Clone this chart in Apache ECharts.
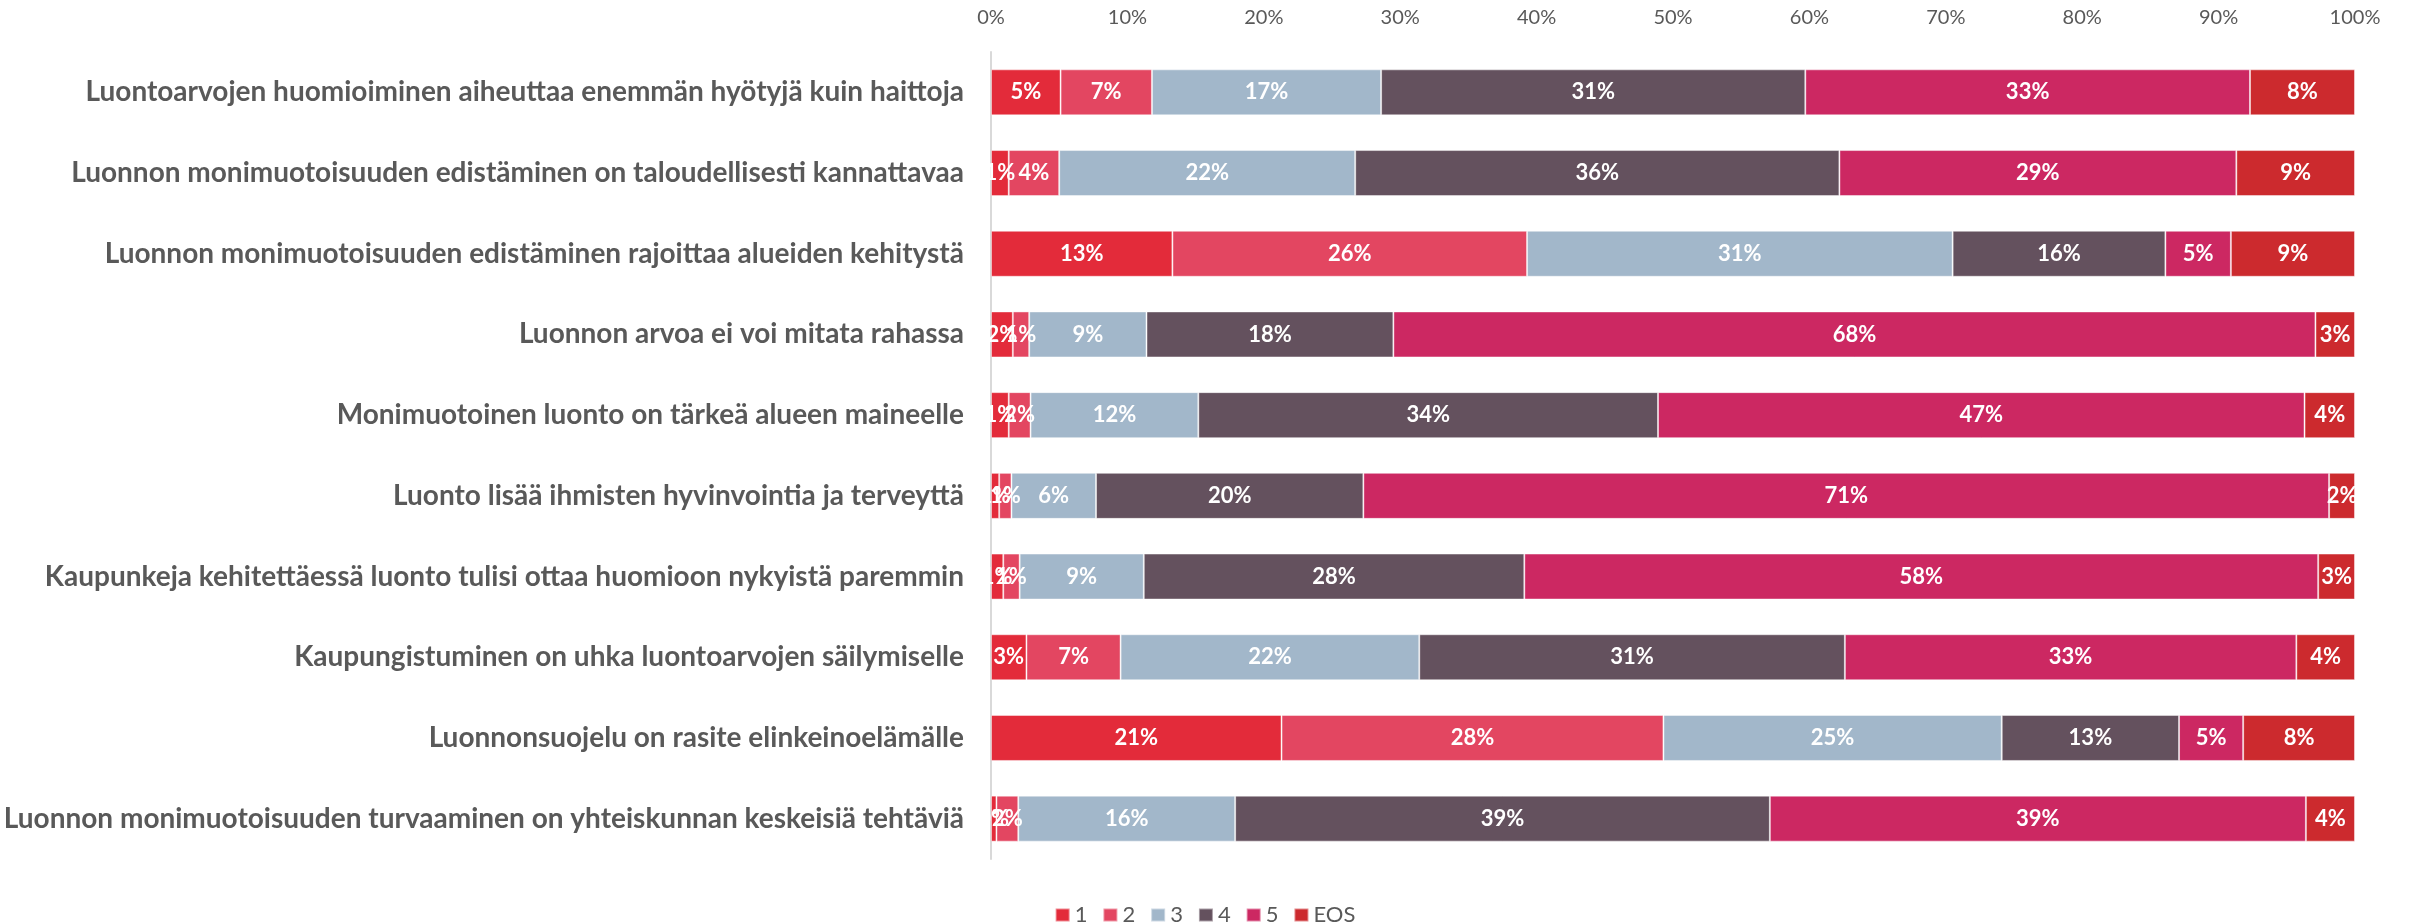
<!DOCTYPE html>
<html>
<head>
<meta charset="utf-8">
<script src="https://cdn.jsdelivr.net/npm/echarts@6/dist/echarts.min.js"></script>
<style>
  html, body { margin: 0; padding: 0; background: #ffffff; }
  #chart { width: 2410px; height: 922px; }
</style>
</head>
<body>
<div id="chart"></div>
<script>
// Statements, top to bottom
const statements = [
  'Luontoarvojen huomioiminen aiheuttaa enemmän hyötyjä kuin haittoja',
  'Luonnon monimuotoisuuden edistäminen on taloudellisesti kannattavaa',
  'Luonnon monimuotoisuuden edistäminen rajoittaa alueiden kehitystä',
  'Luonnon arvoa ei voi mitata rahassa',
  'Monimuotoinen luonto on tärkeä alueen maineelle',
  'Luonto lisää ihmisten hyvinvointia ja terveyttä',
  'Kaupunkeja kehitettäessä luonto tulisi ottaa huomioon nykyistä paremmin',
  'Kaupungistuminen on uhka luontoarvojen säilymiselle',
  'Luonnonsuojelu on rasite elinkeinoelämälle',
  'Luonnon monimuotoisuuden turvaaminen on yhteiskunnan keskeisiä tehtäviä'
];

// Answer shares (%) per scale point, one value per statement
const answers1   = [5.1, 1.3, 13.3, 1.6, 1.3, 0.6, 0.9, 2.6, 21.3, 0.4];
const answers2   = [6.7, 3.7, 26.0, 1.2, 1.6, 0.9, 1.2, 6.9, 28.0, 1.6];
const answers3   = [16.8, 21.7, 31.2, 8.6, 12.3, 6.2, 9.1, 21.9, 24.8, 15.9];
const answers4   = [31.1, 35.5, 15.6, 18.1, 33.7, 19.6, 27.9, 31.2, 13.0, 39.2];
const answers5   = [32.6, 29.1, 4.8, 67.6, 47.4, 70.8, 58.2, 33.1, 4.7, 39.3];
const answersEOS = [7.7, 8.7, 9.1, 2.9, 3.7, 1.9, 2.7, 4.3, 8.2, 3.6];

const seriesNames = ['1', '2', '3', '4', '5', 'EOS'];
const seriesColors = ['#E32B3A', '#E34661', '#A2B7CA', '#64515E', '#CC2862', '#CC2A2E'];
const seriesData = [answers1, answers2, answers3, answers4, answers5, answersEOS];

const FONT = 'Lato, "Liberation Sans", sans-serif';

const chart = echarts.init(document.getElementById('chart'), null, { renderer: 'canvas' });

const series = seriesNames.map((name, i) => ({
  name: name,
  type: 'bar',
  stack: 'total',
  barWidth: 46,
  data: seriesData[i],
  itemStyle: {
    color: seriesColors[i],
    borderColor: 'rgba(255,255,255,0.45)',
    borderWidth: 1
  },
  label: {
    show: true,
    position: 'inside',
    color: '#ffffff',
    fontFamily: FONT,
    fontWeight: 'bold',
    fontSize: 22,
    formatter: p => Math.round(p.value) + '%'
  },
  emphasis: { disabled: true }
}));

chart.setOption({
  animation: false,
  backgroundColor: '#ffffff',
  textStyle: { fontFamily: FONT },
  grid: { left: 991, right: 55, top: 52, bottom: 63 },
  legend: {
    data: seriesNames,
    top: 899,
    left: 'center',
    itemWidth: 14,
    itemHeight: 13,
    itemGap: 15,
    icon: 'rect',
    textStyle: { color: '#595959', fontSize: 22, fontFamily: FONT }
  },
  xAxis: {
    type: 'value',
    position: 'top',
    min: 0,
    max: 100,
    interval: 10,
    axisLine: { show: false },
    axisTick: { show: false },
    splitLine: { show: false },
    axisLabel: {
      formatter: '{value}%',
      color: '#595959',
      fontSize: 20,
      fontFamily: FONT,
      margin: 24
    }
  },
  yAxis: {
    type: 'category',
    inverse: true,
    data: statements,
    axisLine: { show: true, lineStyle: { color: '#D9D9D9', width: 2 } },
    axisTick: { show: false },
    axisLabel: {
      color: '#595959',
      fontSize: 28,
      fontWeight: 'bold',
      fontFamily: FONT,
      margin: 27
    }
  },
  series: series
});
</script>
</body>
</html>
